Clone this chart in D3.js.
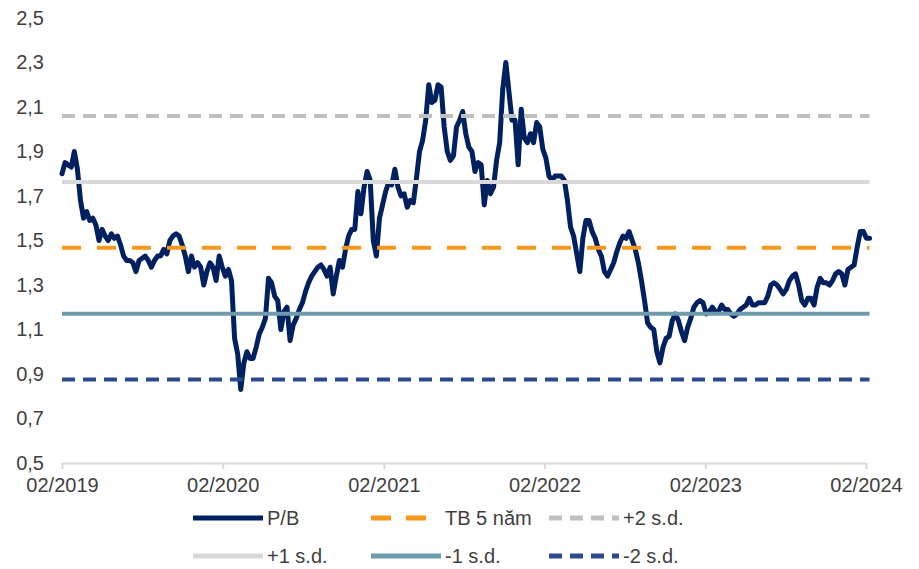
<!DOCTYPE html>
<html>
<head>
<meta charset="utf-8">
<script src="https://cdn.jsdelivr.net/npm/d3@7"></script>
<style>
  body { margin: 0; background: #ffffff; }
  svg text { font-family: "Liberation Sans", Arial, sans-serif; fill: #3f3f3f; }
</style>
</head>
<body>
<svg id="chart" width="919" height="569"></svg>
<script>
// Weekly P/B ratio, first observation on the start date, one value per week
const startDate = "2019-02-01";
const pbValues = [
  1.80, 1.85, 1.84, 1.83, 1.90, 1.82, 1.68, 1.60, 1.63, 1.59,
  1.60, 1.57, 1.50, 1.55, 1.52, 1.50, 1.53, 1.51, 1.52, 1.48,
  1.43, 1.41, 1.41, 1.40, 1.36, 1.41, 1.42, 1.43, 1.41, 1.38,
  1.41, 1.43, 1.43, 1.46, 1.44, 1.50, 1.52, 1.53, 1.52, 1.48,
  1.43, 1.36, 1.43, 1.38, 1.40, 1.38, 1.30, 1.36, 1.40, 1.38,
  1.32, 1.43, 1.38, 1.34, 1.37, 1.32, 1.06, 0.99, 0.83, 0.95,
  1.00, 0.97, 0.97, 1.02, 1.08, 1.11, 1.15, 1.33, 1.31, 1.25,
  1.23, 1.10, 1.18, 1.20, 1.05, 1.12, 1.15, 1.19, 1.22, 1.27,
  1.31, 1.34, 1.36, 1.38, 1.39, 1.37, 1.34, 1.38, 1.26, 1.34,
  1.41, 1.38, 1.46, 1.52, 1.55, 1.55, 1.72, 1.62, 1.74, 1.81,
  1.77, 1.50, 1.43, 1.60, 1.66, 1.72, 1.76, 1.75, 1.82, 1.74,
  1.70, 1.71, 1.65, 1.68, 1.67, 1.78, 1.90, 1.95, 2.04, 2.20,
  2.12, 2.13, 2.20, 2.19, 2.01, 1.90, 1.86, 1.88, 2.01, 2.04,
  2.08, 1.98, 1.92, 1.90, 1.81, 1.85, 1.84, 1.66, 1.77, 1.71,
  1.74, 1.86, 1.94, 2.18, 2.30, 2.17, 2.04, 2.04, 1.84, 2.09,
  1.96, 1.94, 1.98, 1.94, 2.03, 2.01, 1.91, 1.87, 1.79, 1.77,
  1.79, 1.79, 1.79, 1.77, 1.68, 1.56, 1.52, 1.44, 1.36, 1.51,
  1.59, 1.59, 1.54, 1.51, 1.46, 1.43, 1.36, 1.34, 1.37, 1.40,
  1.45, 1.49, 1.52, 1.51, 1.54, 1.50, 1.46, 1.40, 1.32, 1.23,
  1.13, 1.11, 1.10, 1.00, 0.95, 1.02, 1.06, 1.07, 1.14, 1.17,
  1.14, 1.09, 1.05, 1.11, 1.15, 1.20, 1.22, 1.23, 1.22, 1.17,
  1.18, 1.20, 1.18, 1.18, 1.21, 1.19, 1.19, 1.17, 1.16, 1.17,
  1.19, 1.20, 1.21, 1.24, 1.21, 1.21, 1.22, 1.22, 1.22, 1.25,
  1.30, 1.31, 1.30, 1.28, 1.26, 1.28, 1.32, 1.34, 1.35, 1.30,
  1.23, 1.21, 1.24, 1.24, 1.21, 1.29, 1.33, 1.31, 1.31, 1.30,
  1.32, 1.35, 1.36, 1.35, 1.30, 1.37, 1.38, 1.39, 1.47, 1.54,
  1.54, 1.51, 1.51
];

// Five-year average and standard deviation of P/B
const avg5y = 1.467;
const sd5y = 0.296;

const xTickDates = ["2019-02-01", "2020-02-01", "2021-02-01", "2022-02-01", "2023-02-01", "2024-02-01"];
const yTickValues = [0.5, 0.7, 0.9, 1.1, 1.3, 1.5, 1.7, 1.9, 2.1, 2.3, 2.5];
const legendLabels = ["P/B", "TB 5 năm", "+2 s.d.", "+1 s.d.", "-1 s.d.", "-2 s.d."];
const bandMultipliers = [0, 2, 1, -1, -2];

const parse = d3.utcParse("%Y-%m-%d");
const start = parse(startDate);
const series = pbValues.map((v, i) => ({ date: d3.utcDay.offset(start, 7 * i), value: v }));
const firstDate = series[0].date;
const lastDate = series[series.length - 1].date;

const svg = d3.select("#chart");

const x = d3.scaleUtc()
  .domain([parse(xTickDates[0]), parse(xTickDates[xTickDates.length - 1])])
  .range([62, 866]);
const y = d3.scaleLinear().domain([0.5, 2.5]).range([463, 18]);

// Y axis: labels only
const yAxis = svg.append("g")
  .attr("transform", "translate(44,0)")
  .call(d3.axisLeft(y)
    .tickValues(yTickValues)
    .tickSize(0)
    .tickPadding(0)
    .tickFormat(d => d.toFixed(1).replace(".", ",")));
yAxis.select(".domain").remove();
yAxis.selectAll("text").attr("font-size", 20).style("fill", "#3f3f3f");

// X axis
const xAxis = svg.append("g")
  .attr("transform", "translate(0,463)")
  .call(d3.axisBottom(x)
    .tickValues(xTickDates.map(parse))
    .tickSizeInner(6)
    .tickSizeOuter(0)
    .tickPadding(9)
    .tickFormat(d3.utcFormat("%m/%Y")));
xAxis.select(".domain").attr("stroke", "#d9d9d9").attr("stroke-width", 2);
xAxis.selectAll(".tick line").attr("stroke", "#d9d9d9").attr("stroke-width", 2);
xAxis.selectAll("text").attr("font-size", 20).style("fill", "#3f3f3f");

// P/B line
const line = d3.line().x(d => x(d.date)).y(d => y(d.value));
svg.append("path")
  .datum(series)
  .attr("fill", "none")
  .attr("stroke", "#002060")
  .attr("stroke-width", 5)
  .attr("stroke-linejoin", "round")
  .attr("stroke-linecap", "round")
  .attr("d", line);

// Average and standard-deviation bands
const bandStyles = {
  "0":  { color: "#f7981d", dash: "19,16" },
  "2":  { color: "#bfbfbf", dash: "13,8" },
  "1":  { color: "#d9d9d9", dash: null },
  "-1": { color: "#6e9aae", dash: null },
  "-2": { color: "#2e4a8e", dash: "13,8" }
};
bandMultipliers.forEach(k => {
  const level = avg5y + k * sd5y;
  const st = bandStyles[String(k)];
  svg.append("path")
    .datum([{ date: firstDate, value: level }, { date: lastDate, value: level }])
    .attr("fill", "none")
    .attr("stroke", st.color)
    .attr("stroke-width", 4)
    .attr("stroke-dasharray", st.dash)
    .attr("d", line);
});

// Legend
const legendItems = [
  { label: legendLabels[0], color: "#002060", dash: null, col: 0, row: 0 },
  { label: legendLabels[1], color: "#f7981d", dash: "20,15", col: 1, row: 0 },
  { label: legendLabels[2], color: "#bfbfbf", dash: "13,8", col: 2, row: 0 },
  { label: legendLabels[3], color: "#d9d9d9", dash: null, col: 0, row: 1 },
  { label: legendLabels[4], color: "#6e9aae", dash: null, col: 1, row: 1 },
  { label: legendLabels[5], color: "#2e4a8e", dash: "13,8", col: 2, row: 1 }
];
const colX = [193, 371, 549];
const rowY = [518, 556];
const legend = svg.append("g");
legendItems.forEach(it => {
  const g = legend.append("g").attr("transform", `translate(${colX[it.col]},${rowY[it.row]})`);
  g.append("line")
    .attr("x1", 0).attr("x2", 70).attr("y1", 0).attr("y2", 0)
    .attr("stroke", it.color)
    .attr("stroke-width", 5)
    .attr("stroke-dasharray", it.dash);
  g.append("text")
    .attr("x", 74)
    .attr("y", 0)
    .attr("dy", "0.35em")
    .attr("font-size", 20)
    .text(it.label);
});
</script>
</body>
</html>
